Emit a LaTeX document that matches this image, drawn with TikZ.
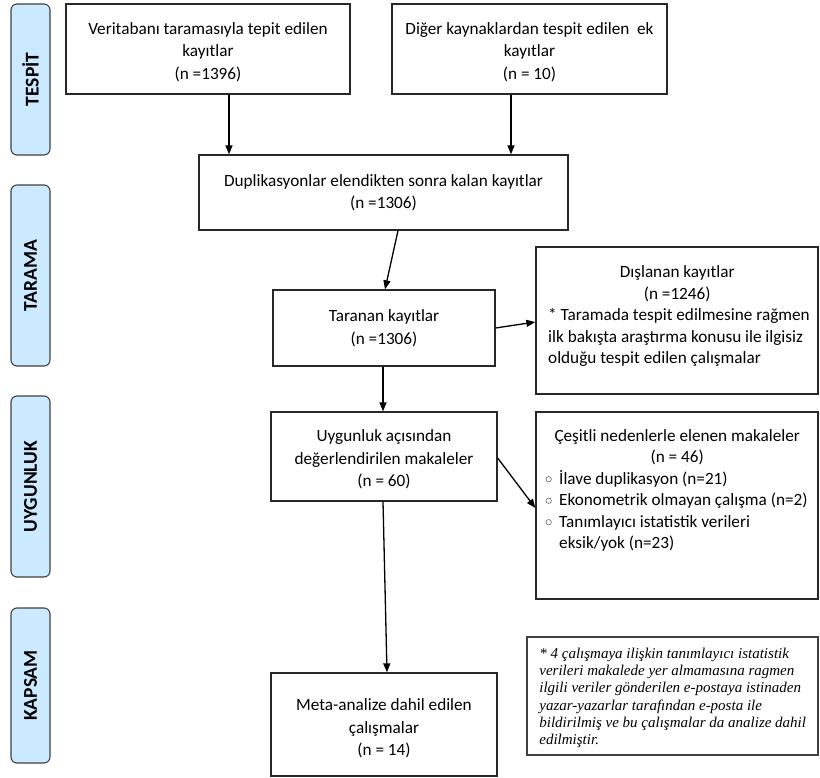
\documentclass[tikz,border=0pt]{standalone}
\usepackage{fontspec}
\setmainfont{Carlito}
\newfontfamily\notefont{Liberation Serif}
\usetikzlibrary{arrows.meta}
\definecolor{phaseblue}{RGB}{204,234,255}
\definecolor{frame}{RGB}{40,40,40}
\newcommand\mainsz{\fontsize{17.2}{22.5}\selectfont}
\newcommand\sidesz{\fontsize{17.2}{21.5}\selectfont}
\newcommand\bul{\makebox[14pt][l]{\hspace*{0.5pt}\tikz[baseline=-0.6ex]\draw[black!60,line width=0.6pt] (0,0) circle (2.7pt);}}
\begin{document}
\begin{tikzpicture}[x=1pt,y=-1pt,
  box/.style={draw=frame, line width=1.3pt, inner sep=0pt},
  phase/.style={draw=black!75, fill=phaseblue, rounded corners=6pt, line width=1.1pt, rotate=90, inner sep=0pt, font=\bfseries\fontsize{19.5}{24}\selectfont},
  arr/.style={-{Triangle[length=9pt,width=7pt]}, line width=1.3pt, draw=black},
  ctxt/.style={inner sep=0pt, font=\mainsz, align=center},
  ltxt/.style={inner sep=0pt, font=\sidesz, align=left}
]
\useasboundingbox (0,0) rectangle (820,778);
% phase labels
\node[phase, minimum width=151, minimum height=39] (p1) at (30.5,79.5) {TESPİT};
\node[phase, minimum width=181, minimum height=39] (p2) at (30.5,275.5) {TARAMA};
\node[phase, minimum width=181, minimum height=39] (p3) at (30.5,486.5) {UYGUNLUK};
\node[phase, minimum width=155, minimum height=39] (p4) at (30.5,685.5) {KAPSAM};
% main boxes
\node[box, minimum width=284, minimum height=90] (b1) at (208,49) {};
\node[box, minimum width=275, minimum height=90] (b2) at (529.5,49) {};
\node[box, minimum width=369, minimum height=75] (b3) at (383.5,192.5) {};
\node[box, minimum width=222, minimum height=76] (b4) at (384,328) {};
\node[box, minimum width=226, minimum height=89] (uyg) at (384,456.5) {};
\node[box, minimum width=226, minimum height=103] (meta) at (384,724.5) {};
\node[box, minimum width=282, minimum height=147] (dis) at (677,320.5) {};
\node[box, minimum width=282, minimum height=187] (ces) at (677,505.5) {};
\node[box, minimum width=291, minimum height=118, line width=1.6pt, draw=black!75] (note) at (672.5,696) {};
% texts
\node[ctxt] (b1t) at ([yshift=-3pt]b1.center) {Veritabanı taramasıyla tepit edilen\\kayıtlar\\(n =1396)};
\node[ctxt] (b2t) at ([yshift=-3pt]b2.center) {Diğer kaynaklardan tespit edilen\ \ ek\\kayıtlar\\(n = 10)};
\node[ctxt] (b3t) at ([yshift=0pt]b3.center) {Duplikasyonlar elendikten sonra kalan kayıtlar\\(n =1306)};
\node[ctxt] (b4t) at ([yshift=0pt]b4.center) {Taranan kayıtlar\\(n =1306)};
\node[ctxt] (uygt) at ([yshift=-3pt]uyg.center) {Uygunluk açısından\\değerlendirilen makaleler\\(n = 60)};
\node[ctxt] (metat) at ([yshift=-4pt]meta.center) {Meta-analize dahil edilen\\çalışmalar\\(n = 14)};
\node[ltxt, anchor=north west] (dist) at (548,265.5) {\makebox[258pt][c]{Dışlanan kayıtlar}\\\makebox[258pt][c]{(n =1246)}\\* Taramada tespit edilmesine rağmen\\ilk bakışta araştırma konusu ile ilgisiz\\olduğu tespit edilen çalışmalar};
\node[ltxt, anchor=north west] (cest) at (545,429) {\makebox[264pt][c]{Çeşitli nedenlerle elenen makaleler}\\\makebox[264pt][c]{(n = 46)}\\\bul İlave duplikasyon (n=21)\\\bul Ekonometrik olmayan çalışma (n=2)\\\bul Tanımlayıcı istatistik verileri\\\hspace*{14pt}eksik/yok (n=23)};
\node[inner sep=0pt, align=left, font=\notefont\itshape\fontsize{15}{17.3}\selectfont, anchor=west] (notetx) at ([xshift=13pt,yshift=-2pt]note.west) {* 4 çalışmaya ilişkin tanımlayıcı istatistik\\verileri makalede yer almamasına ragmen\\ilgili veriler gönderilen e-postaya istinaden\\yazar-yazarlar tarafından e-posta ile\\bildirilmiş ve bu çalışmalar da analize dahil\\edilmiştir.};
% connectors
\draw[arr] ([xshift=21pt]b1.south) coordinate (s1) -- (s1 |- b3.north);
\draw[arr] ([xshift=-18.5pt]b2.south) coordinate (s2) -- (s2 |- b3.north);
\draw[arr] ([xshift=14.5pt]b3.south) -- ([xshift=1pt]b4.north);
\draw[arr] ([xshift=-1pt]b4.south) coordinate (s4) -- (s4 |- uyg.north);
\draw[arr] (b4.east) -- ([yshift=-1.5pt]dis.west);
\draw[arr] ([yshift=-1.5pt]uyg.east) -- ([yshift=-2.5pt]ces.west);
\draw[arr] ([xshift=-1pt]uyg.south) -- ([xshift=3pt]meta.north);
\end{tikzpicture}
\end{document}
